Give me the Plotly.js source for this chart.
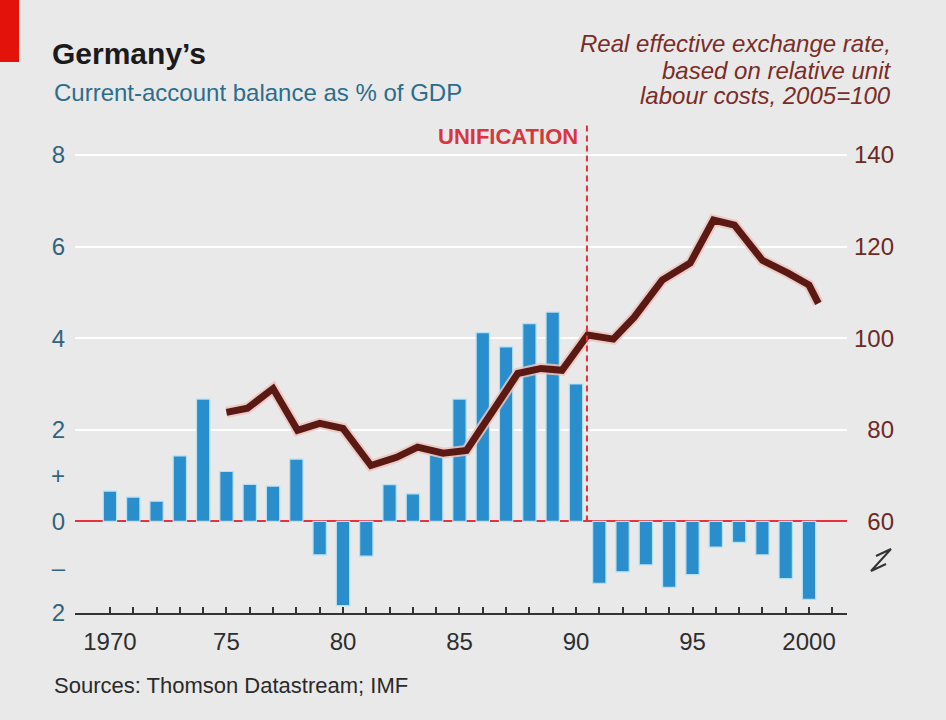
<!DOCTYPE html>
<html>
<head>
<meta charset="utf-8">
<script src="https://cdn.plot.ly/plotly-3.0.1.min.js"></script>
<style>
  html, body { margin: 0; padding: 0; background: #e9e9e9; }
  #chart { width: 946px; height: 720px; }
</style>
</head>
<body>
<div id="chart"></div>
<script>
// ---- Data ----
const years = [1970, 1971, 1972, 1973, 1974, 1975, 1976, 1977, 1978, 1979,
               1980, 1981, 1982, 1983, 1984, 1985, 1986, 1987, 1988, 1989,
               1990, 1991, 1992, 1993, 1994, 1995, 1996, 1997, 1998, 1999, 2000];
// Current-account balance, % of GDP
const currentAccount = [0.66, 0.53, 0.44, 1.43, 2.67, 1.09, 0.81, 0.77, 1.36, -0.73,
                        -1.84, -0.76, 0.80, 0.60, 1.45, 2.67, 4.12, 3.81, 4.32, 4.57,
                        3.00, -1.35, -1.10, -0.95, -1.44, -1.16, -0.56, -0.46, -0.73, -1.25, -1.70];
// Real effective exchange rate (relative unit labour costs, 2005=100)
const reerDates = [1975, 1975.9, 1977, 1978.05, 1979, 1980, 1981.2, 1982.3, 1983.2, 1984.3,
                   1985.3, 1987.5, 1988.5, 1989.4, 1990.5, 1991.6, 1992.5, 1993.7, 1994.9,
                   1995.9, 1996.8, 1998.0, 1999.1, 2000.0, 2000.4];
const reerValues = [83.8, 84.7, 89.0, 79.9, 81.4, 80.3, 72.2, 74.0, 76.2, 74.9,
                    75.5, 92.3, 93.4, 93.0, 100.7, 99.8, 104.6, 112.7, 116.4,
                    125.8, 124.7, 117.0, 114.2, 111.6, 107.6];
const unificationDate = 1990.47;

// Axis ticks
const xTickVals = [1970, 1971, 1972, 1973, 1974, 1975, 1976, 1977, 1978, 1979, 1980,
                   1981, 1982, 1983, 1984, 1985, 1986, 1987, 1988, 1989, 1990,
                   1991, 1992, 1993, 1994, 1995, 1996, 1997, 1998, 1999, 2000, 2001];
const xTickLabels = {1970: '1970', 1975: '75', 1980: '80', 1985: '85', 1990: '90', 1995: '95', 2000: '2000'};
const leftTickVals = [-2, -1, 0, 1, 2, 4, 6, 8];
const leftTickText = ['2', '–', '0', '+', '2', '4', '6', '8'];
const rightTickVals = [60, 80, 100, 120, 140];
const rightTickText = ['\u200760', '\u200780', '100', '120', '140'];

// ---- Layout helpers (pixel -> paper) ----
const L = 75, R = 847, T = 120, B = 613;
const px = x => (x - L) / (R - L);
const py = y => (B - y) / (B - T);

const FONT = 'Liberation Sans, Arial, sans-serif';
const NARROW = 'Liberation Sans Narrow, Arial Narrow, Liberation Sans, sans-serif';
const BG = '#e9e9e9';

const bars = {
  type: 'bar',
  x: years,
  y: currentAccount,
  yaxis: 'y',
  width: 0.57,
  marker: { color: '#2a8dcc', line: { color: '#b5e1f5', width: 1.2 } },
  hoverinfo: 'x+y',
  showlegend: false
};

const lineHalo = {
  type: 'scatter', mode: 'lines',
  x: reerDates, y: reerValues, yaxis: 'y2',
  line: { color: 'rgba(236,196,190,0.85)', width: 11, shape: 'linear' },
  hoverinfo: 'skip', showlegend: false
};

const line = {
  type: 'scatter', mode: 'lines',
  x: reerDates, y: reerValues, yaxis: 'y2',
  line: { color: '#5a1a13', width: 7, shape: 'linear' },
  showlegend: false
};

const layout = {
  width: 946, height: 720,
  margin: { l: L, r: 946 - R, t: T, b: 720 - B, pad: 0 },
  paper_bgcolor: BG,
  plot_bgcolor: BG,
  font: { family: FONT, color: '#333' },
  title: {
    text: 'Germany’s',
    font: { family: FONT, size: 30, weight: 700, color: '#1b1b1b' },
    xref: 'container', x: 52 / 946, xanchor: 'left',
    yref: 'container', y: 1 - 53 / 720, yanchor: 'middle'
  },
  bargap: 0.4,
  xaxis: {
    range: [1968.5, 2001.63],
    tickmode: 'array',
    tickvals: xTickVals,
    ticktext: xTickVals.map(v => xTickLabels[v] || ''),
    ticks: 'inside', ticklen: 6, tickwidth: 2, tickcolor: '#333',
    showline: true, linecolor: '#333', linewidth: 2,
    showgrid: false, zeroline: false,
    tickfont: { family: FONT, size: 24, color: '#2e2e2e' },
    ticklabelstandoff: 6,
    fixedrange: true
  },
  yaxis: {
    range: [-2, 8.764],
    tickmode: 'array',
    tickvals: leftTickVals,
    ticktext: leftTickText,
    showgrid: false,
    zeroline: true, zerolinecolor: '#e5323b', zerolinewidth: 2,
    showline: false, ticks: '',
    tickfont: { family: FONT, size: 24, color: '#2f6481' },
    ticklabelstandoff: 9,
    fixedrange: true
  },
  yaxis2: {
    overlaying: 'y', side: 'right',
    range: [40, 147.64],
    tickmode: 'array',
    tickvals: rightTickVals,
    ticktext: rightTickText,
    showgrid: true, gridcolor: '#ffffff', gridwidth: 2,
    zeroline: false, showline: false, ticks: '',
    tickfont: { family: FONT, size: 24, color: '#6b2a24' },
    ticklabelstandoff: 6,
    fixedrange: true
  },
  shapes: [
    // unification marker
    { type: 'line', xref: 'x', yref: 'y', x0: unificationDate, x1: unificationDate, y0: 0, y1: 8.72,
      line: { color: '#e0353d', width: 2, dash: '6px,4px' }, layer: 'above' },
    // red corner tag
    { type: 'rect', xref: 'paper', yref: 'paper', x0: px(0), x1: px(19), y0: py(62), y1: py(0),
      fillcolor: '#e3120b', line: { width: 0 } },
    // axis break symbol on the right scale
    { type: 'path', xref: 'paper', yref: 'paper',
      path: `M ${px(876)} ${py(556)} L ${px(891)} ${py(549)} L ${px(871)} ${py(571)} L ${px(886)} ${py(564)}`,
      line: { color: '#333', width: 2 } }
  ],
  annotations: [
    { xref: 'paper', yref: 'paper', x: px(52), y: py(93), xanchor: 'left', yanchor: 'middle',
      text: 'Current-account balance as % of GDP', showarrow: false,
      font: { family: FONT, size: 24, color: '#2b6d8c' } },
    { xref: 'paper', yref: 'paper', x: px(893), y: py(43), xanchor: 'right', yanchor: 'middle',
      text: '<i>Real effective exchange rate,</i>', showarrow: false,
      font: { family: FONT, size: 24, color: '#7a2d26' } },
    { xref: 'paper', yref: 'paper', x: px(893), y: py(70), xanchor: 'right', yanchor: 'middle',
      text: '<i>based on relative unit</i>', showarrow: false,
      font: { family: FONT, size: 24, color: '#7a2d26' } },
    { xref: 'paper', yref: 'paper', x: px(893), y: py(96), xanchor: 'right', yanchor: 'middle',
      text: '<i>labour costs, 2005=100</i>', showarrow: false,
      font: { family: FONT, size: 24, color: '#7a2d26' } },
    { xref: 'x', yref: 'y', x: unificationDate, y: 8.4, xanchor: 'right', yanchor: 'middle', xshift: -7,
      text: 'UNIFICATION', showarrow: false,
      font: { family: NARROW, size: 22, weight: 700, color: '#d8363e' } },
    { xref: 'paper', yref: 'paper', x: px(52), y: py(685), xanchor: 'left', yanchor: 'middle',
      text: 'Sources: Thomson Datastream; IMF', showarrow: false,
      font: { family: FONT, size: 22, color: '#2a2a2a' } }
  ]
};

Plotly.newPlot('chart', [bars, lineHalo, line], layout, { displayModeBar: false, staticPlot: true });
</script>
</body>
</html>
